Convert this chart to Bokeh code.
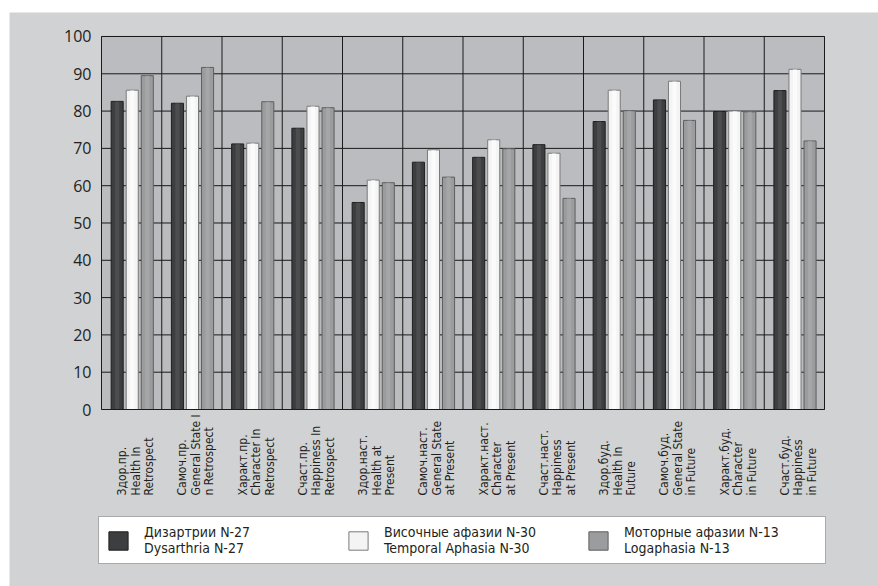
import numpy as np
from bokeh.plotting import figure
from bokeh.layouts import column, row
from bokeh.models import (Range1d, ColumnDataSource, Legend, LegendItem, Spacer)
from bokeh.core.properties import value
from bokeh.embed import file_html
from bokeh.resources import INLINE

categories = [
    "Здор.пр.\nHealth In\nRetrospect",
    "Самоч.пр.\nGeneral State I\nn Retrospect",
    "Характ.пр.\nCharacter In\nRetrospect",
    "Счаст.пр.\nHappiness In\nRetrospect",
    "Здор.наст.\nHealth at\nPresent",
    "Самоч.наст.\nGeneral State\nat Present",
    "Характ.наст.\nCharacter\nat Present",
    "Счаст.наст.\nHappiness\nat Present",
    "Здор.буд.\nHealth In\nFuture",
    "Самоч.буд.\nGeneral State\nin Future",
    "Характ.буд.\nCharacter\nin Future",
    "Счаст.буд.\nHappiness\nin Future",
]
dysarthria = [82.6, 82.1, 71.2, 75.4, 55.5, 66.3, 67.6, 71.0, 77.2, 83.0, 79.9, 85.5]
temporal = [85.6, 84.0, 71.4, 81.3, 61.5, 69.6, 72.3, 68.7, 85.6, 88.0, 80.0, 91.2]
logaphasia = [89.5, 91.7, 82.5, 80.9, 60.8, 62.3, 69.9, 56.6, 80.1, 77.5, 79.8, 72.0]
series_labels = ["Дизартрии N-27\nDysarthria N-27",
                 "Височные афазии N-30\nTemporal Aphasia N-30",
                 "Моторные афазии N-13\nLogaphasia N-13"]
y_ticks = list(range(0, 101, 10))
y_tick_labels = [str(t) for t in y_ticks]
y_max = 100

NARROW = "Liberation Sans Narrow, DejaVu Sans Condensed, sans-serif"
PANEL = "#d1d2d4"
PLOT_BG = "#bbbcbf"
GRID = "#1a1a1a"
TXT = "#231f20"
n = len(categories)
idx = np.arange(n)

# The frame fills the whole figure; the chart area is drawn inside it,
# with room for tick labels, category labels and legend around it.
p = figure(width=869, height=574, output_backend="svg", toolbar_location=None,
           x_range=Range1d(-1.527, n + 0.896), y_range=Range1d(-47.45, 106.43),
           min_border_left=0, min_border_right=0, min_border_top=0,
           min_border_bottom=0)
p.border_fill_color = PANEL
p.background_fill_color = PANEL
p.outline_line_color = None
p.axis.visible = False
p.grid.visible = False

# chart area, grid
p.quad(left=0, right=n, bottom=0, top=y_max, fill_color=PLOT_BG, line_color=None)
p.segment(x0=0, x1=n, y0=y_ticks, y1=y_ticks, line_color=GRID, line_width=1)
bounds = list(range(1, n))
p.segment(x0=bounds, x1=bounds, y0=0, y1=y_max, line_color=GRID, line_width=1)

# y tick labels
p.text(x=0, y=y_ticks, text=y_tick_labels, x_offset=-10, text_align="right",
       text_baseline="middle", text_font=value("Open Sans"),
       text_font_size="16px", text_color=TXT)

fills = ["#3d3e40", "#f4f4f4", "#9b9c9e"]
highlights = ["#58595b", "#ffffff", "#adaeb0"]
lines = ["#1e1e1e", "#7a7a7a", "#5e5e5e"]
offsets = [-0.24, 0.01, 0.26]
series = [dysarthria, temporal, logaphasia]
renderers = []
for vals, fc, hc, lc, off in zip(series, fills, highlights, lines, offsets):
    s = ColumnDataSource(dict(x=idx + 0.5 + off, top=vals))
    r = p.vbar(x="x", top="top", bottom=0, width=0.2, source=s,
               fill_color=fc, line_color=lc, line_width=1)
    p.vbar(x="x", top="top", bottom=0, width=0.07, source=s,
           fill_color=hc, fill_alpha=0.6, line_color=None)
    renderers.append(r)

# chart outline
p.quad(left=0, right=n, bottom=0, top=y_max, fill_color=None,
       line_color=GRID, line_width=1)

# category labels (vertical, reading upwards)
lsrc = ColumnDataSource(dict(x=idx + 0.5, lab=categories))
p.text(x="x", y=-23.05, text="lab", source=lsrc, angle=np.pi / 2,
       x_offset=4, text_align="left", text_baseline="middle",
       text_font=value(NARROW), text_font_size="12px",
       text_line_height=0.97, text_color=TXT)

legend = Legend(items=[LegendItem(label=lab, renderers=[r])
                       for lab, r in zip(series_labels, renderers)],
                orientation="horizontal", location=(89, 22),
                glyph_width=24, glyph_height=23, label_standoff=14,
                label_width=194, spacing=8, padding=7, margin=0,
                label_text_font=NARROW, label_text_font_size="14px",
                label_text_color=TXT, label_text_line_height=1.6,
                border_line_color="#555555", border_line_width=1,
                background_fill_color="white", background_fill_alpha=1.0)
p.add_layout(legend, "center")

layout = column(Spacer(width=878, height=12),
                row(Spacer(width=9, height=574), p, spacing=0),
                spacing=0)
open("out.html", "w").write(file_html(layout, INLINE))
